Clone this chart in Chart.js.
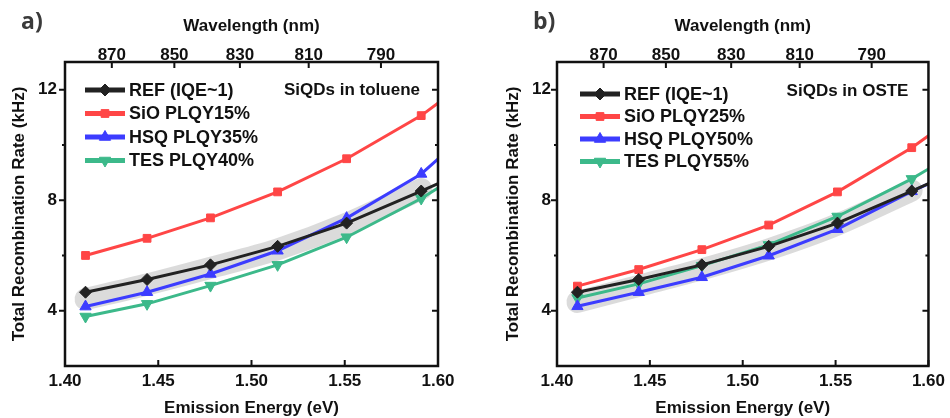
<!DOCTYPE html>
<html lang="en">
<head>
<meta charset="UTF-8">
<title>Total recombination rate vs emission energy</title>
<script src="https://cdn.jsdelivr.net/npm/chart.js"></script>
<style>
    body { margin: 0; background: #fff; }
    .wrap { position: relative; width: 950px; height: 418px; }
    .wrap canvas { position: absolute; top: 0; }
    #panel-a { left: 0; }
    #panel-b { left: 475px; }
    .tag { position: absolute; top: 4px; font: bold 23px "Open Sans", sans-serif; color: #3a3a3a; }
</style>
</head>
<body>
<div class="wrap">
    <canvas id="panel-a" width="475" height="418"></canvas>
    <canvas id="panel-b" width="475" height="418"></canvas>
    <div class="tag" style="left:21px">a)</div>
    <div class="tag" style="left:533px">b)</div>
</div>
<script>
    // photon energy <-> wavelength, E[eV] = HC / lambda[nm]
    const HC = 1239.84;

    // emission energies of the measured QD fractions (eV); last one sits past the axis
    const energies = [1.411, 1.444, 1.478, 1.514, 1.551, 1.591, 1.631];
    const wavelengthTicks = [870, 850, 830, 810, 790];
    const energyTicks = [1.40, 1.45, 1.50, 1.55, 1.60];

    // total recombination rate (kHz)
    const refRate = [4.67, 5.13, 5.66, 6.33, 7.17, 8.33, 9.54];

    // toluene
    const sioToluene = [6.00, 6.62, 7.36, 8.30, 9.50, 11.06, 13.06];
    const hsqToluene = [4.15, 4.67, 5.33, 6.17, 7.35, 8.95, 11.34];
    const tesToluene = [3.79, 4.25, 4.91, 5.66, 6.66, 8.06, 9.76];
    const bandToluene = [4.42, 4.95, 5.55, 6.22, 7.15, 8.40];

    // OSTE
    const sioOste = [4.89, 5.49, 6.21, 7.10, 8.30, 9.90, 11.82];
    const hsqOste = [4.16, 4.67, 5.21, 5.99, 6.95, 8.32, 9.51];
    const tesOste = [4.46, 4.97, 5.63, 6.38, 7.41, 8.77, 10.37];
    const bandOste = [4.32, 4.90, 5.50, 6.22, 7.12, 8.35];

    const FONT = '"Liberation Sans", Arial, sans-serif';
    const INK = '#111';

    function pts(vals) {
        return vals.map((v, i) => ({ x: energies[i], y: v }));
    }

    function series(label, vals, color, style, radius, rotation) {
        return {
            label: label,
            data: pts(vals),
            borderColor: color,
            backgroundColor: color,
            borderWidth: 3,
            pointStyle: style,
            pointRadius: radius,
            pointRotation: rotation || 0,
            pointBorderWidth: 1,
            pointHoverRadius: radius,
            clip: 0,
            order: 1
        };
    }

    // grey guide band drawn under the curves
    function band(vals) {
        return {
            label: '',
            isBand: true,
            data: pts(vals),
            borderColor: 'rgba(160,160,160,0.38)',
            borderWidth: 22,
            borderCapStyle: 'round',
            borderJoinStyle: 'round',
            tension: 0.3,
            pointRadius: 0,
            clip: 0,
            order: 10
        };
    }

    // frame, inward/outward tick marks, in-plot legend and label
    const decorations = {
        id: 'decorations',
        afterDatasetsDraw(chart, args, opts) {
            const ctx = chart.ctx;
            const a = chart.chartArea;
            const sx = chart.scales.x, sy = chart.scales.y;
            ctx.save();
            ctx.strokeStyle = INK;
            ctx.lineWidth = 2;
            ctx.beginPath();
            [4, 8, 12].forEach(v => {
                const y = sy.getPixelForValue(v);
                ctx.moveTo(a.left - 6, y); ctx.lineTo(a.left, y);
                ctx.moveTo(a.right - 6, y); ctx.lineTo(a.right, y);
            });
            [6, 10].forEach(v => {
                const y = sy.getPixelForValue(v);
                ctx.moveTo(a.left - 3, y); ctx.lineTo(a.left, y);
                ctx.moveTo(a.right - 3, y); ctx.lineTo(a.right, y);
            });
            energyTicks.forEach(v => {
                const x = sx.getPixelForValue(v);
                ctx.moveTo(x, a.bottom); ctx.lineTo(x, a.bottom - 6);
            });
            wavelengthTicks.forEach(w => {
                const x = sx.getPixelForValue(HC / w);
                ctx.moveTo(x, a.top); ctx.lineTo(x, a.top + 6);
            });
            ctx.stroke();
            ctx.lineWidth = 2.5;
            ctx.strokeRect(a.left, a.top, a.right - a.left, a.bottom - a.top);

            // legend
            let y = a.top + opts.legendTop;
            chart.data.datasets.filter(d => !d.isBand).forEach(d => {
                const x0 = a.left + opts.legendLeft;
                ctx.strokeStyle = d.borderColor;
                ctx.fillStyle = d.borderColor;
                ctx.lineWidth = 5;
                ctx.beginPath();
                ctx.moveTo(x0, y); ctx.lineTo(x0 + 40, y);
                ctx.stroke();
                ctx.lineWidth = 1;
                Chart.helpers.drawPoint(ctx, {
                    pointStyle: d.pointStyle,
                    radius: d.pointRadius,
                    rotation: d.pointRotation,
                    borderWidth: 1
                }, x0 + 20, y);
                ctx.fillStyle = INK;
                ctx.font = 'bold 18px ' + FONT;
                ctx.textAlign = 'left';
                ctx.textBaseline = 'middle';
                ctx.fillText(d.label, x0 + 44, y + 1);
                y += opts.legendStep;
            });

            ctx.font = 'bold 17px ' + FONT;
            ctx.textAlign = 'right';
            ctx.fillStyle = INK;
            ctx.fillText(opts.note, a.right - opts.noteRight, a.top + opts.noteTop);
            ctx.restore();
        }
    };

    function makePanel(id, datasets, p) {
        const tickFont = { family: FONT, size: 17, weight: 'bold' };
        const titleFont = { family: FONT, size: 17, weight: 'bold' };
        const noGrid = { display: false, drawTicks: false };
        return new Chart(document.getElementById(id), {
            type: 'line',
            data: { datasets: datasets },
            plugins: [decorations],
            options: {
                responsive: false,
                animation: false,
                devicePixelRatio: 1,
                layout: { padding: { left: 0, right: p.rightPad, top: 0, bottom: 0 } },
                plugins: {
                    legend: { display: false },
                    tooltip: { enabled: false },
                    decorations: p.deco
                },
                scales: {
                    x: {
                        type: 'linear', position: 'bottom', min: 1.40, max: 1.60,
                        afterFit: s => { s.height = 52; },
                        grid: noGrid, border: { display: false },
                        ticks: {
                            stepSize: 0.05, padding: 5, color: INK, font: tickFont,
                            maxRotation: 0, autoSkip: false,
                            callback: v => v.toFixed(2)
                        },
                        title: {
                            display: true, text: 'Emission Energy (eV)', color: INK,
                            font: titleFont, padding: { top: 0, bottom: -1 }
                        }
                    },
                    x2: {
                        type: 'linear', position: 'top', min: 1.40, max: 1.60,
                        afterFit: s => { s.height = 62; },
                        afterBuildTicks: s => { s.ticks = wavelengthTicks.map(w => ({ value: HC / w })); },
                        grid: noGrid, border: { display: false },
                        ticks: {
                            padding: -4, color: INK, font: tickFont, maxRotation: 0, autoSkip: false,
                            callback: (v, i) => String(wavelengthTicks[i])
                        },
                        title: {
                            display: true, text: 'Wavelength (nm)', color: INK,
                            font: titleFont, padding: { top: 16, bottom: 0 }
                        }
                    },
                    y: {
                        type: 'linear', position: 'left', min: 2, max: 13,
                        afterFit: s => { s.width = p.yWidth; },
                        grid: noGrid, border: { display: false },
                        ticks: {
                            stepSize: 2, padding: p.yLabelPad, color: INK, font: tickFont,
                            callback: v => (v % 4 === 0 ? v : '')
                        },
                        title: {
                            display: true, text: 'Total Recombination Rate (kHz)', color: INK,
                            font: titleFont, padding: { top: p.yTitlePad, bottom: 0 }
                        }
                    }
                }
            }
        });
    }

    makePanel('panel-a', [
        series('REF (IQE~1)', refRate, '#222222', 'rectRot', 6),
        series('SiO PLQY15%', sioToluene, '#ff4646', 'rect', 5.5),
        series('HSQ PLQY35%', hsqToluene, '#3c3cff', 'triangle', 6.5),
        series('TES PLQY40%', tesToluene, '#3cb98a', 'triangle', 6.5, 180),
        band(bandToluene)
    ], {
        rightPad: 37, yWidth: 65, yLabelPad: 8, yTitlePad: 9,
        deco: { legendLeft: 20, legendTop: 28, legendStep: 23.5, note: 'SiQDs in toluene', noteRight: 18, noteTop: 28 }
    });

    makePanel('panel-b', [
        series('REF (IQE~1)', refRate, '#222222', 'rectRot', 6),
        series('SiO PLQY25%', sioOste, '#ff4646', 'rect', 5.5),
        series('HSQ PLQY50%', hsqOste, '#3c3cff', 'triangle', 6.5),
        series('TES PLQY55%', tesOste, '#3cb98a', 'triangle', 6.5, 180),
        band(bandOste)
    ], {
        rightPad: 17, yWidth: 82, yLabelPad: 6, yTitlePad: 28,
        deco: { legendLeft: 23, legendTop: 32, legendStep: 22.5, note: 'SiQDs in OSTE', noteRight: 20, noteTop: 29 }
    });
</script>
</body>
</html>
